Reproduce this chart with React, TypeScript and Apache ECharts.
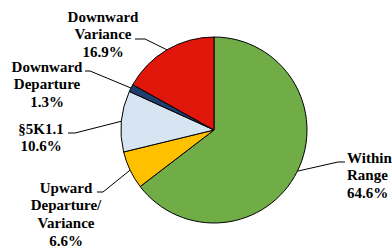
import React, { useEffect, useRef } from "react";
import * as echarts from "echarts";

const categories = ["Within\nRange", "Upward\nDeparture/\nVariance", "§5K1.1", "Downward\nDeparture", "Downward\nVariance"];
const shares = [64.6, 6.6, 10.6, 1.3, 16.9];
const colors = ["#70AD47", "#FFC000", "#D6E5F1", "#1F3F6F", "#E0160B"];

// label layout: anchor x, top y, align, elbow point, line end x
const labelPos = [
  { x: 347, y: 149, align: "left", elbow: [338, 162], endX: 345 },
  { x: 66, y: 179, align: "center", elbow: [103, 192], endX: 97 },
  { x: 41, y: 120, align: "center", elbow: [75, 133], endX: 68 },
  { x: 47, y: 58, align: "center", elbow: [90, 71], endX: 85 },
  { x: 103, y: 8, align: "center", elbow: [145, 39], endX: 135 },
];

export default function App() {
  const ref = useRef<HTMLDivElement>(null);
  useEffect(() => {
    const chart = echarts.init(ref.current!, null, { renderer: "svg" });
    chart.setOption({
      animation: false,
      backgroundColor: "#ffffff",
      textStyle: { fontFamily: "Times New Roman" },
      series: [
        {
          type: "pie",
          center: [214, 130],
          radius: 93,
          startAngle: 90,
          clockwise: true,
          data: categories.map((name, i) => ({
            name,
            value: shares[i],
            itemStyle: { color: colors[i] },
          })),
          itemStyle: { borderColor: "#000000", borderWidth: 1 },
          label: {
            show: true,
            formatter: "{b}\n{c}%",
            fontFamily: "Times New Roman",
            fontWeight: "bold",
            fontSize: 15,
            lineHeight: 17.6,
            color: "#000000",
            overflow: "none",
            width: 120,
          },
          labelLine: { show: true, lineStyle: { color: "#000000", width: 1 } },
          labelLayout: (params: any) => {
            const p = labelPos[params.dataIndex];
            const start = params.labelLinePoints ? params.labelLinePoints[0] : p.elbow;
            return {
              x: p.x,
              y: p.y,
              align: p.align,
              verticalAlign: "top",
              labelLinePoints: [start, p.elbow, [p.endX, p.elbow[1]]],
            };
          },
          emphasis: { disabled: true },
        },
      ],
    });
    return () => chart.dispose();
  }, []);
  return (
    <div
      ref={ref}
      style={{ position: "fixed", left: 0, top: 0, width: 392, height: 248 }}
    />
  );
}
